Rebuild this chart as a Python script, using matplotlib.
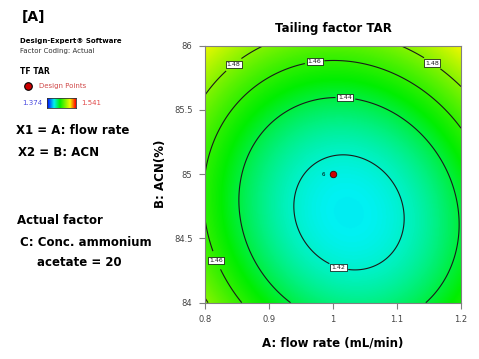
import numpy as np
import matplotlib
matplotlib.use("Agg")
import matplotlib.pyplot as plt
from matplotlib.colors import LinearSegmentedColormap

# response surface for TF TAR (quadratic fit, C held at 20)
f_min = 1.4133
x_center = 1.025
y_center = 84.703
coef_xx = 0.912
coef_yy = 0.0338
coef_xy = 0.0372

resp_low = 1.374
resp_high = 1.541
contour_levels = [1.42, 1.44, 1.46, 1.48]

design_x = [1.0]
design_y = [85.0]
design_label = ["6"]

x_ticks = [0.8, 0.9, 1.0, 1.1, 1.2]
x_ticklabels = ["0.8", "0.9", "1", "1.1", "1.2"]
y_ticks = [84, 84.5, 85, 85.5, 86]
y_ticklabels = ["84", "84.5", "85", "85.5", "86"]

# where the contour labels sit
label_pos = [(0.842, 85.87), (0.970, 85.92), (1.160, 85.90),
             (1.020, 85.63), (1.009, 84.28), (0.818, 84.33)]

cmap = LinearSegmentedColormap.from_list(
    "dx", [(0.0, "#0000ff"), (0.24, "#00f2f2"), (0.45, "#00ee00"),
           (0.8, "#f4f800"), (1.0, "#ff0000")])

plt.rcParams['font.family'] = ['DejaVu Sans']

xg = np.linspace(0.8, 1.2, 300)
yg = np.linspace(84, 86, 300)
X, Y = np.meshgrid(xg, yg)
dx = X - x_center
dy = Y - y_center
Z = f_min + coef_xx * dx**2 + coef_yy * dy**2 + coef_xy * dx * dy

fig = plt.figure(figsize=(4.79, 3.59), dpi=100)
ax = fig.add_axes([205 / 479, 1 - 302.7 / 359, 256 / 479, 257 / 359])

ax.imshow(Z, extent=[0.8, 1.2, 84, 86], origin="lower", aspect="auto",
          cmap=cmap, vmin=resp_low, vmax=resp_high, interpolation="bilinear")
cs = ax.contour(X, Y, Z, levels=contour_levels, colors="#1a1a1a", linewidths=0.8)
labels = ax.clabel(cs, fmt="%.2f", fontsize=4.5, inline=True, inline_spacing=3,
                   manual=label_pos)
for t in labels:
    t.set_rotation(0)
    t.set_bbox(dict(facecolor="white", edgecolor="black", linewidth=0.5, pad=0.8))

ax.scatter(design_x, design_y, s=22, color="#cc0000", edgecolor="#400000",
           linewidth=0.6, zorder=5)
for xv, yv, lab in zip(design_x, design_y, design_label):
    ax.text(xv - 0.012, yv, lab, fontsize=4, ha="right", va="center")

ax.set_xlim(0.8, 1.2)
ax.set_ylim(84, 86)
ax.set_xticks(x_ticks)
ax.set_xticklabels(x_ticklabels)
ax.set_yticks(y_ticks)
ax.set_yticklabels(y_ticklabels)
ax.tick_params(length=4, width=0.8, color="#808080", labelsize=6,
               labelcolor="#444444", pad=5)
for sp in ax.spines.values():
    sp.set_color("#808080")
    sp.set_linewidth(0.8)

ax.set_title("Tailing factor TAR", fontsize=8.5, fontweight="bold", pad=10)
ax.set_xlabel("A: flow rate (mL/min)", fontsize=8.5, fontweight="bold", labelpad=9)
ax.set_ylabel("B: ACN(%)", fontsize=8.5, fontweight="bold", labelpad=5)

# left side legend block
def px(x, y):
    return x / 479, 1 - y / 359

fig.text(*px(22, 17), "[A]", fontsize=10, fontweight="bold", va="center")
fig.text(*px(20, 41), "Design-Expert® Software", fontsize=5, fontweight="bold",
         va="center")
fig.text(*px(20, 51), "Factor Coding: Actual", fontsize=5, color="#333333",
         va="center")
fig.text(*px(20, 72), "TF TAR", fontsize=5.5, fontweight="bold", va="center")
fig.text(*px(39, 86), "Design Points", fontsize=5, color="#d04848", va="center")
fig.text(*px(22, 103), "1.374", fontsize=5, color="#4a4ae0", va="center")
fig.text(*px(81, 103), "1.541", fontsize=5, color="#e04a4a", va="center")
dot_ax = fig.add_axes([0, 0, 1, 1], facecolor="none")
dot_ax.set_axis_off()
dot_ax.set_xlim(0, 479)
dot_ax.set_ylim(359, 0)
dot_ax.scatter([28], [86], s=30, color="#cc0000", edgecolor="black", linewidth=0.8)

cb_ax = fig.add_axes([47 / 479, 1 - 108 / 359, 29 / 479, 10 / 359])
cb_ax.imshow(np.linspace(0, 1, 100)[None, :], aspect="auto", cmap=cmap)
cb_ax.set_xticks([])
cb_ax.set_yticks([])
for sp in cb_ax.spines.values():
    sp.set_color("#333333")
    sp.set_linewidth(0.6)

fig.text(*px(16, 130), "X1 = A: flow rate", fontsize=8.5, fontweight="bold", va="center")
fig.text(*px(18, 153), "X2 = B: ACN", fontsize=8.5, fontweight="bold", va="center")
fig.text(*px(17, 221), "Actual factor", fontsize=8.5, fontweight="bold", va="center")
fig.text(*px(20, 242), "C: Conc. ammonium", fontsize=8.5, fontweight="bold", va="center")
fig.text(*px(37, 263), "acetate = 20", fontsize=8.5, fontweight="bold", va="center")

fig.savefig("out.png", dpi=100)
